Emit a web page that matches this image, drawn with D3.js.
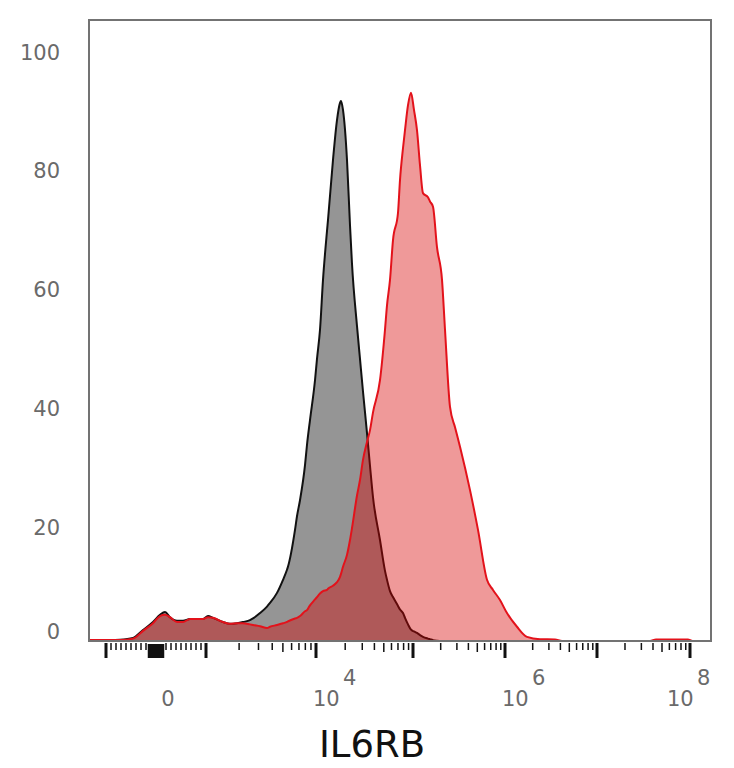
<!DOCTYPE html>
<html>
<head>
<meta charset="utf-8">
<script src="https://cdn.jsdelivr.net/npm/d3@7"></script>
<style>
  body { margin: 0; background: #fff; }
  svg { display: block; }
  .tick-label { font-family: "DejaVu Sans", sans-serif; font-size: 21px; fill: #6a6a6a; }
  .axis-title { font-family: "DejaVu Sans", sans-serif; font-size: 37px; fill: #111; }
</style>
</head>
<body>
<svg id="chart" width="734" height="768"></svg>
<script>
// fluorescence intensity (bin centres) and % of max for each sample
const intensity = [-2200, -920, -720, -460, -260, -60, 80, 180, 280, 420, 540, 680, 940,
  1043, 1158, 1427, 1652, 1913, 2169, 2512, 2675, 3097, 3585, 3818, 4421, 5012, 5448, 5560,
  6443, 6717, 7153, 7943, 8279, 8820, 9793, 10240, 10996, 11808, 12980, 13297, 14970, 16460,
  17680, 18100, 18980, 20870, 22413, 23500, 26470, 28414, 30510, 33560, 36030, 38700, 45680,
  51440, 53950, 57920, 62200, 70050, 73440, 78880, 82700, 88830, 95370, 102500, 110500,
  119140, 128400, 145500, 153000, 165000, 182300, 206700, 222800, 252500, 286200, 324300,
  416600, 508800, 637200, 740700, 882400, 1051000, 1350000, 1734000, 2401000, 3496000,
  4166000, 37150000, 43100000, 95200000, 105000000, 168000000];

// black: control
const control = [0.15, 0.15, 0.2, 0.5, 1.85, 3.2, 4.4, 4.9, 4.0, 3.4, 3.4, 3.7, 3.7,
  4.2, 3.9, 3.2, 2.9, 3.0, 3.2, 3.5, 3.8, 4.7, 5.8, 6.4, 8.1, 10.3, 12.0, 12.5,
  18.7, 21.0, 23.7, 29.6, 33.0, 37.2, 43.9, 47.5, 52.4, 60.8, 69.0, 70.9, 81.0, 87.7,
  90.6, 90.9, 89.4, 81.0, 70.0, 63.5, 53.0, 47.5, 42.0, 35.0, 29.5, 24.2, 17.0,
  11.8, 10.3, 8.4, 7.4, 5.9, 5.3, 4.7, 3.9, 2.8, 1.9, 1.6, 1.35,
  1.0, 0.7, 0.4, 0.3, 0.15, 0.05, 0, 0, 0, 0, 0,
  0, 0, 0, 0, 0, 0, 0, 0, 0, 0,
  0, 0, 0, 0, 0];

// red: IL6RB stained
const stained = [0.15, 0.15, 0.15, 0.4, 1.7, 3.0, 4.2, 4.4, 4.0, 3.2, 3.2, 3.7, 3.7,
  4.0, 3.9, 3.2, 2.9, 3.0, 3.0, 2.8, 2.7, 2.5, 2.2, 2.4, 2.7, 3.0, 3.2, 3.3,
  3.8, 3.9, 4.2, 5.0, 5.2, 6.0, 7.0, 7.4, 8.0, 8.4, 8.6, 8.8, 9.3, 9.9,
  10.8, 11.3, 12.5, 14.5, 17.0, 19.0, 24.5, 27.1, 30.5, 33.5, 35.5, 38.5, 43.9,
  52.4, 56.5, 60.8, 67.5, 72.1, 77.6, 83.0, 86.0, 90.2, 92.3, 89.4, 86.0,
  80.1, 75.4, 74.7, 74.0, 73.1, 66.3, 60.8, 52.4, 39.4, 36.0, 32.7,
  25.4, 18.7, 10.3, 8.6, 6.9, 4.7, 2.4, 0.7, 0.3, 0.25,
  0, 0, 0.25, 0.25, 0];

const yTicks = [0, 20, 40, 60, 80, 100];
const xLabels = [{v: 0, base: "0", exp: ""}, {v: 1e4, base: "10", exp: "4"},
  {v: 1e6, base: "10", exp: "6"}, {v: 1e8, base: "10", exp: "8"}];

const box = {left: 89, top: 20, right: 711, bottom: 641};

// biexponential-like display: linear in [-1000, 1000], log beyond
const tv = v => Math.abs(v) <= 1000 ? v / 1000 : Math.sign(v) * (1 + Math.log10(Math.abs(v) / 1000));
const zeroX = 156, linHalf = 50;
const decadeW = [110, 97, 92, 92, 93];
const tDomain = [-1, 0, 1], tRange = [zeroX - linHalf, zeroX, zeroX + linHalf];
decadeW.forEach((w, i) => { tDomain.push(i + 2); tRange.push(tRange[tRange.length - 1] + w); });
const tScale = d3.scaleLinear().domain(tDomain).range(tRange);
const x = v => tScale(tv(v));

const y = d3.scaleLinear().domain([0, 100]).range([box.bottom, box.bottom - 594]);

const svg = d3.select('#chart');

svg.append('clipPath').attr('id', 'plotclip')
  .append('rect')
  .attr('x', box.left).attr('y', box.top)
  .attr('width', box.right - box.left).attr('height', box.bottom - box.top);

const plot = svg.append('g').attr('clip-path', 'url(#plotclip)');

const area = (vals) => d3.area()
  .x((d, i) => x(intensity[i]))
  .y0(y(0))
  .y1((d) => y(d))
  .curve(d3.curveMonotoneX)(vals);

const line = (vals) => d3.line()
  .x((d, i) => x(intensity[i]))
  .y((d) => y(d))
  .curve(d3.curveMonotoneX)(vals);

plot.append('path').attr('d', area(control)).attr('fill', '#959595');
plot.append('path').attr('d', line(control)).attr('fill', 'none')
  .attr('stroke', '#111').attr('stroke-width', 2);
plot.append('path').attr('d', area(stained)).attr('fill', 'rgba(215,0,0,0.4)');
plot.append('path').attr('d', line(stained)).attr('fill', 'none')
  .attr('stroke', '#e3121b').attr('stroke-width', 2);

// frame
svg.append('rect')
  .attr('x', box.left).attr('y', box.top)
  .attr('width', box.right - box.left).attr('height', box.bottom - box.top)
  .attr('fill', 'none').attr('stroke', '#737373').attr('stroke-width', 2);

// y labels (no tick marks)
svg.append('g').selectAll('text')
  .data(yTicks).enter().append('text')
  .attr('class', 'tick-label')
  .attr('x', 60)
  .attr('y', (d) => d === 0 ? y(d) - 10 : y(d) + 5)
  .attr('dy', '0.36em')
  .attr('text-anchor', 'end')
  .text((d) => d);

// x tick marks
const majorTicks = [-1000, 1000, 1e4, 1e5, 1e6, 1e7, 1e8];
const nearZero = d3.range(-150, 151, 10);
const linMinor = d3.range(-900, -199, 100).concat(d3.range(200, 901, 100));
const logMinor = [];
[1e3, 1e4, 1e5, 1e6, 1e7].forEach(dec => {
  for (let k = 2; k <= 9; k++) logMinor.push({v: dec * k, mid: k === 5});
});

const ticks = svg.append('g').attr('stroke', '#111');
const tickTop = box.bottom + 2;
ticks.selectAll('.major').data(majorTicks).enter().append('line')
  .attr('x1', x).attr('x2', x)
  .attr('y1', tickTop).attr('y2', tickTop + 15)
  .attr('stroke-width', 3);
ticks.selectAll('.zero').data(nearZero).enter().append('line')
  .attr('x1', x).attr('x2', x)
  .attr('y1', tickTop + 1).attr('y2', tickTop + 15)
  .attr('stroke-width', 1.5);
ticks.selectAll('.lin').data(linMinor).enter().append('line')
  .attr('x1', x).attr('x2', x)
  .attr('y1', tickTop).attr('y2', tickTop + 7)
  .attr('stroke-width', 1.5);
ticks.selectAll('.log').data(logMinor).enter().append('line')
  .attr('x1', (d) => x(d.v)).attr('x2', (d) => x(d.v))
  .attr('y1', tickTop).attr('y2', (d) => tickTop + (d.mid ? 9 : 7))
  .attr('stroke-width', 1.5);

// x labels
const labels = svg.append('g');
xLabels.forEach(l => {
  if (l.exp === "") {
    labels.append('text').attr('class', 'tick-label')
      .attr('x', x(l.v) + 12).attr('y', 706)
      .attr('text-anchor', 'middle').text(l.base);
  } else {
    const x0 = Math.min(x(l.v) - 3, 667);
    labels.append('text').attr('class', 'tick-label')
      .attr('x', x0).attr('y', 706).text(l.base);
    labels.append('text').attr('class', 'tick-label')
      .attr('x', x0 + 30).attr('y', 685).text(l.exp);
  }
});

svg.append('text')
  .attr('class', 'axis-title')
  .attr('x', 372).attr('y', 757)
  .attr('text-anchor', 'middle')
  .text('IL6RB');
</script>
</body>
</html>
